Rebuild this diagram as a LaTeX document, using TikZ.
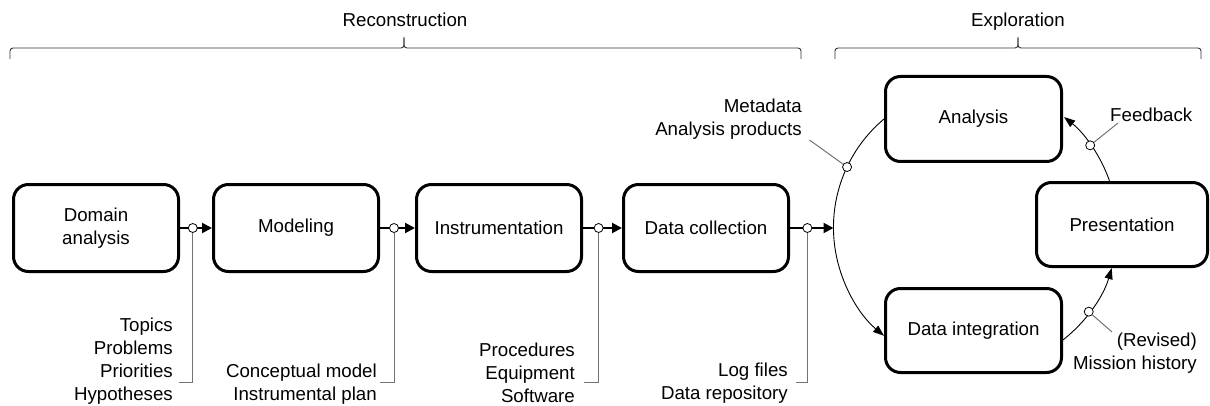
\documentclass[tikz,border=0pt]{standalone}
\usepackage{fontspec}
\setmainfont{Liberation Sans}
\usetikzlibrary{arrows.meta}
\begin{document}
\begin{tikzpicture}[x=1pt,y=1pt,
  txt/.style={font=\fontsize{18.7}{23}\selectfont, inner sep=0pt},
  stage/.style={txt, draw, line width=3pt, rounded corners=15pt, align=center},
  dot/.style={circle, draw, fill=white, line width=0.8pt, inner sep=0pt, minimum size=9pt},
  flow/.style={line width=2pt, -{Triangle[length=10pt,width=10pt]}},
  ringarrow/.style={line width=0.9pt, -{Triangle[length=11pt,width=8pt]}},
  leader/.style={draw=black!55, line width=1pt},
  bracket/.style={draw=black!80, line width=0.9pt},
  note/.style={txt, align=right, anchor=east}]
\useasboundingbox (0,0) rectangle (1210,405);

% phase brackets
\draw[bracket] (10,346) -- (10,354) to[out=90,in=180] (13,357) -- (401,357)
  to[out=0,in=-90] (404,368) to[out=-90,in=180] (407,357) -- (798,357)
  to[out=0,in=90] (801,354) -- (801,346);
\draw[bracket] (835,346) -- (835,354) to[out=90,in=180] (838,357) -- (1015,357)
  to[out=0,in=-90] (1018,368) to[out=-90,in=180] (1021,357) -- (1198,357)
  to[out=0,in=90] (1201,354) -- (1201,346);
\node[txt, anchor=base] (recon) at (405,378.3) {Reconstruction};
\node[txt, anchor=base] (explo) at (1018,378.3) {Exploration};

% reconstruction stages
\node[stage, minimum width=165, minimum height=87] (domain) at (96,177) {Domain\\analysis};
\node[stage, minimum width=165, minimum height=87] (modeling) at (296,177) {Modeling};
\node[stage, minimum width=165, minimum height=87] (instr) at (499,177) {Instrumentation};
\node[stage, minimum width=165, minimum height=87] (datacol) at (706,177) {Data collection};

% exploration stages
\node[stage, minimum width=176, minimum height=85] (analysis) at (973.5,286) {Analysis};
\node[stage, minimum width=176, minimum height=84] (dataint) at (973.5,74.5) {Data integration};
\node[stage, minimum width=171, minimum height=84] (present) at (1122,180.5) {Presentation};

% centre of the exploration loop
\coordinate (ctr) at (975,177.5);
\coordinate (merge) at (833.5,177);

% flow between reconstruction stages
\draw[flow] (domain) -- node[dot, pos=0.4] (d1) {} (modeling);
\draw[flow] (modeling) -- node[dot, pos=0.4] (d2) {} (instr);
\draw[flow] (instr) -- node[dot, pos=0.4] (d3) {} (datacol);
\draw[flow] (datacol) -- node[dot, pos=0.4] (d4) {} (merge);

% exploration loop
\draw[ringarrow] (analysis.west) arc[start angle=130, end angle=230, radius=141.5];
\draw[ringarrow] (dataint.-6) arc[start angle=-52, end angle=-16.3, radius=141.5];
\draw[ringarrow] (present.106.6) arc[start angle=19.3, end angle=51.5, radius=141.5];
\node[dot] (m1) at ([shift={(154.7:141.5)}]ctr) {};
\node[dot] (m2) at ([shift={(-36.5:141.5)}]ctr) {};
\node[dot] (m3) at ([shift={(35.5:141.5)}]ctr) {};

% products of each stage
\node[note] (t1) at (173,43.5) {Topics\\Problems\\Priorities\\Hypotheses};
\node[note] (t2) at (377,20.5) {Conceptual model\\Instrumental plan};
\node[note] (t3) at (575,32.5) {Procedures\\Equipment\\Software};
\node[note] (t4) at (788,22) {Log files\\Data repository};
\node[note] (t5) at (802,285.5) {Metadata\\Analysis products};
\node[note] (t6) at (1197,51.5) {(Revised)\\Mission history};
\node[txt, anchor=west] (t7) at (1110,290.5) {Feedback};

\coordinate (h1) at (179,23);
\coordinate (h2) at (380,23);
\coordinate (h3) at (584,23);
\coordinate (h4) at (796,23);
\coordinate (h5) at (809.5,265);
\coordinate (h6) at (1112,73);
\coordinate (h7) at (1118,282);

\draw[leader] (d1) |- (h1);
\draw[leader] (d2) |- (h2);
\draw[leader] (d3) |- (h3);
\draw[leader] (d4) |- (h4);
\draw[leader] (m1) -- (h5);
\draw[leader] (m2) -- (h6);
\draw[leader] (m3) -- (h7);
\end{tikzpicture}
\end{document}
